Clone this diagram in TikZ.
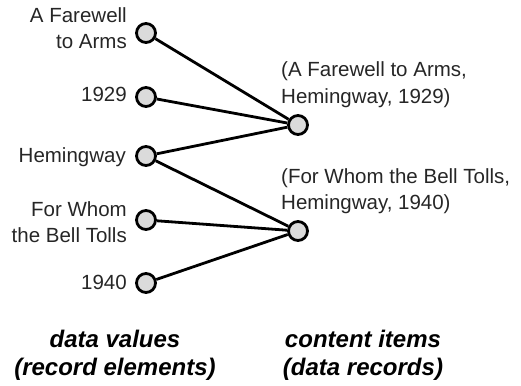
\documentclass[tikz,border=0pt]{standalone}
\usepackage{fontspec}
\setmainfont{Liberation Sans}
\begin{document}
\begin{tikzpicture}[x=1pt,y=-1pt,
  dot/.style={circle,draw=black,fill=black!14,line width=2.8pt,minimum size=19pt,inner sep=0pt},
  link/.style={line width=2.8pt},
  lbl/.style={font=\fontsize{20.5}{26}\selectfont,inner sep=0pt,text=black!85},
  captxt/.style={font=\fontsize{24}{28}\selectfont\bfseries\itshape,inner sep=0pt,align=center}]
\useasboundingbox (0,0) rectangle (521,385);
% left data values
\node[dot] (l1) at (146,33) {};
\node[dot] (l2) at (146,97) {};
\node[dot] (l3) at (146,156) {};
\node[dot] (l4) at (146,220) {};
\node[dot] (l5) at (146,283) {};
% right content items
\node[dot] (r1) at (298,125) {};
\node[dot] (r2) at (298,231) {};
% links
\draw[link] (l1) -- (r1);
\draw[link] (l2) -- (r1);
\draw[link] (l3) -- (r1);
\draw[link] (l3) -- (r2);
\draw[link] (l4) -- (r2);
\draw[link] (l5) -- (r2);
% left labels
\node[lbl,anchor=base east] (t1a) at (127,23) {A Farewell};
\node[lbl,anchor=base east] (t1b) at (127,49) {to Arms};
\node[lbl,anchor=base east] (t2) at (127,102) {1929};
\node[lbl,anchor=base east] (t3) at (126,162) {Hemingway};
\node[lbl,anchor=base east] (t4a) at (127,216) {For Whom};
\node[lbl,anchor=base east] (t4b) at (127,242) {the Bell Tolls};
\node[lbl,anchor=base east] (t5) at (127,289) {1940};
% right labels
\node[lbl,anchor=base west] (u1a) at (281,77) {(A Farewell to Arms,};
\node[lbl,anchor=base west] (u1b) at (281,103) {Hemingway, 1929)};
\node[lbl,anchor=base west] (u2a) at (281,183) {(For Whom the Bell Tolls,};
\node[lbl,anchor=base west] (u2b) at (281,209) {Hemingway, 1940)};
% captions
\node[captxt,anchor=base] (c1a) at (115,347) {data values};
\node[captxt,anchor=base] (c1b) at (115,375) {(record elements)};
\node[captxt,anchor=base] (c2a) at (363,347) {content items};
\node[captxt,anchor=base] (c2b) at (363,375) {(data records)};
\end{tikzpicture}
\end{document}
